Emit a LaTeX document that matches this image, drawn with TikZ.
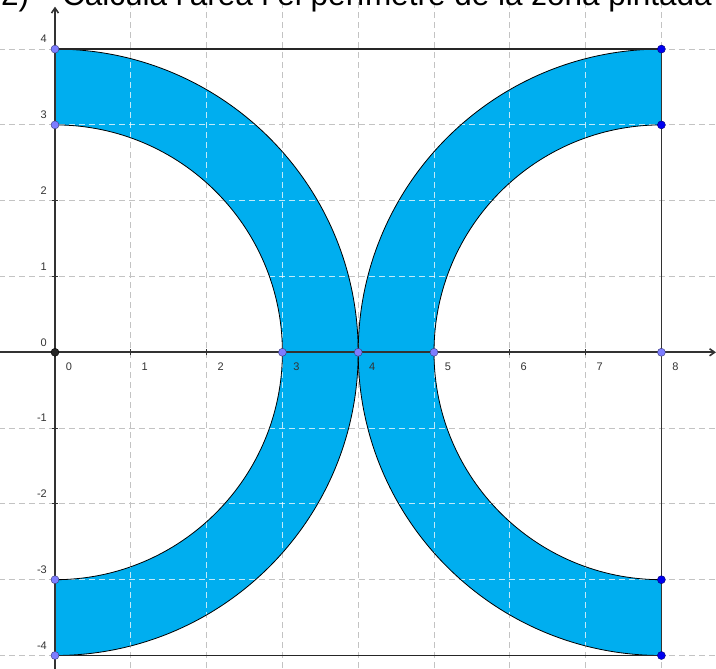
\documentclass[tikz,border=0pt]{standalone}
\usepackage{fontspec}
\setmainfont{Liberation Sans}
\usetikzlibrary{arrows.meta}
\definecolor{fillblue}{RGB}{0,174,239}
\definecolor{gridgray}{RGB}{195,195,195}
\definecolor{ptlight}{RGB}{125,125,255}
\definecolor{ptdark}{RGB}{0,0,240}
\definecolor{axisgray}{RGB}{50,50,50}
\begin{document}
\begin{tikzpicture}[x=75.8pt,y=75.8pt,
  gridline/.style={gridgray, dash pattern=on 6pt off 4pt, line width=0.8pt},
  gridwhite/.style={white, opacity=0.75, dash pattern=on 6pt off 4pt, line width=0.8pt},
  arcline/.style={black, line width=0.8pt},
  edgeline/.style={black!85, line width=1.6pt},
  axisline/.style={axisgray, line width=1.6pt},
  tickline/.style={axisgray, line width=0.8pt},
  dotlight/.style={circle, fill=ptlight, draw=ptlight!45!black, line width=0.4pt, inner sep=0pt, minimum size=8pt},
  dotdark/.style={circle, fill=ptdark, draw=ptdark!45!black, line width=0.4pt, inner sep=0pt, minimum size=8pt},
  dotblack/.style={circle, fill=black!85, draw=black, line width=0.4pt, inner sep=0pt, minimum size=8pt},
  ticklab/.style={font=\fontsize{11}{13}\selectfont, text=black!80, inner sep=0pt},
  titlefont/.style={font=\fontsize{31.5}{36}\selectfont, inner sep=0pt, anchor=base west}
]
\useasboundingbox (-55pt,-316.7pt) rectangle (661pt,352.3pt);

% grid
\foreach \x in {1,...,8} \draw[gridline] (\x,-4.3) -- (\x,4.8);
\foreach \y in {-4,...,4} \draw[gridline] (-1,\y) -- (9,\y);

% shaded bands
\fill[fillblue]
  (0,4) arc[start angle=90,end angle=-90,radius=4] -- (0,-3)
  arc[start angle=-90,end angle=90,radius=3] -- cycle
  (8,4) arc[start angle=90,end angle=270,radius=4] -- (8,-3)
  arc[start angle=270,end angle=90,radius=3] -- cycle;
\begin{scope}
  \clip
  (0,4) arc[start angle=90,end angle=-90,radius=4] -- (0,-3)
  arc[start angle=-90,end angle=90,radius=3] -- cycle
  (8,4) arc[start angle=90,end angle=270,radius=4] -- (8,-3)
  arc[start angle=270,end angle=90,radius=3] -- cycle;
  \foreach \x in {1,...,7} \draw[gridwhite] (\x,-4.3) -- (\x,4.8);
  \foreach \y in {-4,...,4} \draw[gridwhite] (-1,\y) -- (9,\y);
\end{scope}

% named points
\coordinate (c04) at (0,4);
\coordinate (c03) at (0,3);
\coordinate (c0m3) at (0,-3);
\coordinate (c0m4) at (0,-4);
\coordinate (c84) at (8,4);
\coordinate (c83) at (8,3);
\coordinate (c8m3) at (8,-3);
\coordinate (c8m4) at (8,-4);
\coordinate (c30) at (3,0);
\coordinate (c40) at (4,0);
\coordinate (c50) at (5,0);
\coordinate (c80) at (8,0);
\coordinate (c00) at (0,0);
\coordinate (xs) at (-0.74,0);
\coordinate (xe) at (8.72,0);
\coordinate (ys) at (0,-4.2);
\coordinate (ye) at (0,4.56);

% arcs
\draw[arcline] (c04) arc[start angle=90,end angle=-90,radius=4];
\draw[arcline] (c03) arc[start angle=90,end angle=-90,radius=3];
\draw[arcline] (c84) arc[start angle=90,end angle=270,radius=4];
\draw[arcline] (c83) arc[start angle=90,end angle=270,radius=3];

% square edges
\draw[edgeline] (c04) -- (c84);
\draw[edgeline] (c0m4) -- (c8m4);
\draw[axisline, line width=1.2pt] (c84) -- (c8m4);

% axes
\draw[axisline, -{Straight Barb[length=5pt,width=7pt]}] (xs) -- (xe);
\draw[axisline, -{Straight Barb[length=5pt,width=7pt]}] (ys) -- (ye);
\foreach \x in {1,...,7}
  \draw[tickline] ([yshift=-3pt]\x,0) -- ([yshift=3pt]\x,0);
\foreach \y in {-4,...,-1,1,2,3,4}
  \draw[tickline] ([xshift=-3pt]0,\y) -- ([xshift=3pt]0,\y);

% tick labels
\foreach \x in {0,...,8}
  \node[ticklab] (xl\x) at ([xshift=14pt,yshift=-14pt]\x,0) {\x};
\foreach \y in {-4,...,4}
  \node[ticklab, anchor=east] (yl\y) at ([xshift=-8pt,yshift=10pt]0,\y) {\y};

% points
\node[dotlight] (p04) at (c04) {};
\node[dotlight] (p03) at (c03) {};
\node[dotlight] (p0m3) at (c0m3) {};
\node[dotlight] (p0m4) at (c0m4) {};
\node[dotlight] (p30) at (c30) {};
\node[dotlight] (p40) at (c40) {};
\node[dotlight] (p50) at (c50) {};
\node[dotlight] (p80) at (c80) {};
\node[dotdark] (p84) at (c84) {};
\node[dotdark] (p83) at (c83) {};
\node[dotdark] (p8m3) at (c8m3) {};
\node[dotdark] (p8m4) at (c8m4) {};
\node[dotblack] (p00) at (c00) {};

% title (cut off at top, as in the reference)
\node[titlefont] (tnum) at (-54pt,346.3pt) {2)};
\node[titlefont] (ttext) at (7pt,346.3pt) {Calcula l'àrea i el perímetre de la zona pintada};
\end{tikzpicture}
\end{document}
